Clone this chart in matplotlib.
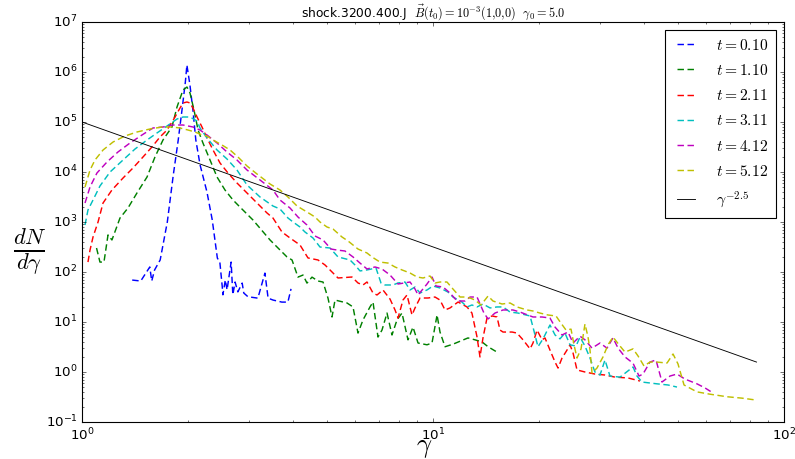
import matplotlib
matplotlib.use('Agg')
import matplotlib.pyplot as plt

plt.style.use('classic')
plt.rcParams['mathtext.fontset'] = 'cm'
plt.rcParams['lines.scale_dashes'] = False

# t = 0.10
g_010 = [1.39, 1.47, 1.56, 1.58, 1.61, 1.67, 1.75, 1.82, 1.88, 1.93, 1.97, 1.99, 2.03, 2.07, 2.11,
         2.17, 2.27, 2.35, 2.43, 2.47, 2.51, 2.52, 2.56, 2.59, 2.66, 2.69, 2.73, 2.78, 2.86, 2.89,
         2.97, 3.17, 3.32, 3.39, 3.50, 3.71, 3.86, 3.94]
n_010 = [69, 66, 126, 66, 110, 174, 1000, 8700, 43600, 190000, 631000, 1380000, 550000, 174000, 43600,
         13800, 3980, 1100, 190, 158, 50, 35, 69, 44, 158, 35, 63, 40, 60, 38,
         32, 30, 95, 30, 27.5, 25, 25, 46]

# t = 1.10
g_110 = [1.10, 1.125, 1.155, 1.186, 1.217, 1.283, 1.352, 1.434, 1.532, 1.614, 1.701, 1.804, 1.865,
         1.940, 1.991, 2.031, 2.085, 2.141, 2.211, 2.316, 2.425, 2.555, 2.693, 2.818, 3.070, 3.433,
         3.618, 3.837, 3.966, 4.124, 4.262, 4.375, 4.521, 4.703, 4.861, 5.022, 5.156, 5.258, 5.689,
         5.917, 6.114, 6.318, 6.614, 6.746, 6.971, 7.156, 7.396, 7.641, 7.896, 8.159, 8.487, 8.770,
         9.065, 9.614, 9.935, 10.27, 10.47, 10.82, 11.40, 12.58, 13.17, 13.79, 14.35, 15.22]
n_110 = [302, 158, 158, 550, 437, 1200, 1905, 3800, 7940, 19950, 43650, 79430, 199500,
         436500, 501000, 380000, 173800, 69200, 38000, 17380, 7940, 4365, 2754, 1995, 1096, 437,
         302, 200, 174, 79, 87, 60, 79, 66, 63, 30, 12.6, 27.5, 24,
         20, 6.0, 11, 20, 25, 5.0, 6.9, 15.1, 5.5, 11, 15.1, 4.4, 7.9,
         3.8, 3.5, 3.8, 13.8, 6.3, 3.2, 3.6, 4.8, 4.4, 4.0, 3.2, 2.5]

# t = 2.11
g_211 = [1.040, 1.054, 1.075, 1.111, 1.148, 1.217, 1.309, 1.397, 1.492, 1.582, 1.668, 1.747, 1.841,
         1.902, 1.940, 1.991, 2.031, 2.071, 2.127, 2.197, 2.271, 2.362, 2.473, 2.606, 2.764, 2.952,
         3.152, 3.366, 3.50, 3.713, 3.914, 4.179, 4.404, 4.703, 4.925, 5.156, 5.362, 5.877, 6.114,
         6.318, 6.486, 6.746, 6.925, 7.202, 7.542, 7.795, 7.950, 8.213, 8.432, 8.713, 8.887, 9.183,
         9.678, 10.13, 10.47, 10.82, 11.18, 11.79, 12.50, 12.91, 13.35, 13.61, 13.88, 14.25, 14.73,
         15.22, 15.52, 15.83, 16.80, 17.35, 18.05, 18.90, 19.27, 19.79, 20.45, 20.85, 21.54, 22.27,
         22.71, 23.31, 24.09, 24.57, 25.06, 25.72, 27.10, 28.93, 30.90, 33.00, 35.94, 38.88]
n_211 = [158, 275, 501, 1000, 2399, 4365, 7586, 12020, 19950, 31620, 50120, 69180, 125900,
         190500, 239900, 251200, 239900, 190500, 125900, 79430, 47860, 27540, 15140, 9550, 6026, 3802,
         2399, 1514, 1202, 631, 479, 347, 191, 174, 138, 100, 75.9, 79.4, 60.3,
         55.0, 63.1, 38.0, 34.7, 43.7, 28.8, 17.4, 12.0, 27.5, 34.7, 13.8, 19.1, 30.2,
         30.2, 31.6, 27.5, 17.4, 19.1, 25.1, 20.0, 15.1, 5.0, 2.0, 4.8, 12.0, 13.2,
         12.6, 6.9, 6.3, 6.3, 6.0, 4.4, 2.9, 3.8, 6.9, 4.4, 4.8, 2.75, 1.58,
         1.20, 1.9, 2.75, 3.5, 2.4, 1.10, 1.0, 0.91, 0.87, 0.79, 0.76, 0.66]

# t = 3.11
g_311 = [1.020, 1.040, 1.075, 1.125, 1.202, 1.309, 1.416, 1.532, 1.635, 1.747, 1.865, 1.940, 2.031,
         2.127, 2.169, 2.271, 2.425, 2.589, 2.764, 2.952, 3.215, 3.50, 3.665, 3.862, 3.993, 4.179,
         4.318, 4.551, 4.765, 5.088, 5.362, 5.801, 5.995, 6.194, 6.486, 6.880, 7.109, 7.298, 7.691,
         7.950, 8.321, 8.600, 8.887, 9.183, 9.614, 10.0, 10.47, 11.03, 11.40, 12.09, 12.50, 12.91,
         13.35, 13.88, 14.54, 15.22, 15.83, 16.58, 17.47, 18.90, 19.27, 19.91, 20.58, 21.54, 22.27,
         23.00, 23.77, 24.57, 25.55, 26.23, 27.10, 28.01, 28.93, 29.91, 30.90, 31.93, 34.11, 37.14,
         38.13, 39.39, 43.46, 46.72, 49.56]
n_311 = [871, 1738, 2754, 5248, 10000, 17380, 28840, 43650, 60260, 83180, 114800, 125900, 125900,
         104700, 75860, 47860, 27540, 18200, 10960, 5495, 3162, 2089, 1820, 1202, 1000, 794,
         631, 479, 316, 302, 200, 174, 138, 105, 110, 120, 60.3, 55.0, 55.0,
         60.3, 63.1, 43.7, 50.1, 38.0, 43.7, 52.5, 47.9, 39.8, 31.6, 25.1, 20.0, 21.9,
         20.0, 22.9, 19.1, 20.0, 20.0, 15.8, 15.1, 13.2, 7.9, 3.2, 4.6, 8.7, 5.5,
         4.6, 6.0, 3.5, 3.3, 5.0, 3.3, 1.9, 1.0, 0.87, 1.74, 0.83, 0.79, 1.26,
         0.83, 0.63, 0.58, 0.55, 0.50]

# t = 4.12
g_412 = [1.020, 1.054, 1.103, 1.178, 1.266, 1.370, 1.482, 1.593, 1.701, 1.816, 1.940, 2.071, 2.169,
         2.271, 2.425, 2.589, 2.764, 2.952, 3.215, 3.50, 3.665, 3.914, 4.124, 4.375, 4.611, 4.861,
         5.121, 5.327, 5.613, 5.917, 6.194, 6.486, 6.835, 7.156, 7.542, 7.950, 8.600, 8.887, 9.065,
         9.614, 9.935, 10.20, 10.68, 11.18, 11.71, 12.34, 12.75, 13.35, 13.97, 14.35, 15.02, 15.83,
         16.90, 17.70, 19.27, 20.45, 21.54, 22.27, 23.31, 24.25, 25.06, 26.23, 27.10, 28.38, 29.91,
         31.31, 32.57, 33.67, 35.24, 37.14, 38.63, 39.65, 41.51, 43.18, 44.92, 47.33, 49.56, 52.24,
         56.51, 59.56, 62.79]
n_412 = [2399, 5012, 9550, 15850, 25120, 38020, 54950, 75860, 79430, 87100, 87100, 79430, 69180,
         54950, 38020, 25120, 17380, 10960, 6918, 4365, 2754, 1905, 1259, 871, 525, 437,
         288, 275, 263, 200, 151, 115, 126, 115, 87.1, 57.5, 63.1, 45.7, 34.7,
         57.5, 79.4, 52.5, 50.1, 38.0, 26.3, 26.3, 31.6, 31.6, 15.1, 11.5, 15.1, 17.4,
         17.4, 15.8, 12.6, 12.6, 12.0, 7.9, 5.5, 6.3, 3.8, 5.2, 4.4, 3.0, 3.8,
         3.0, 4.8, 3.0, 2.0, 1.5, 0.83, 0.91, 1.58, 1.74, 0.63, 0.83, 0.91, 0.72,
         0.58, 0.48, 0.38]

# t = 5.12
g_512 = [1.020, 1.054, 1.089, 1.148, 1.226, 1.326, 1.434, 1.562, 1.690, 1.804, 1.902, 2.004, 2.099,
         2.197, 2.271, 2.362, 2.505, 2.641, 2.782, 2.952, 3.152, 3.433, 3.665, 3.862, 4.098, 4.375,
         4.611, 4.765, 4.989, 5.190, 5.505, 5.727, 6.114, 6.486, 6.702, 7.063, 7.443, 7.795, 8.159,
         8.600, 9.005, 9.366, 9.806, 10.13, 10.47, 10.96, 11.40, 11.94, 12.34, 12.75, 13.17, 13.70,
         14.35, 14.82, 15.73, 16.58, 17.35, 18.53, 19.27, 20.17, 21.27, 22.41, 23.15, 23.93, 24.73,
         25.22, 25.72, 26.41, 27.10, 27.65, 28.01, 28.38, 29.32, 30.50, 31.52, 32.57, 33.88, 35.24,
         37.14, 38.37, 39.91, 41.51, 43.46, 46.42, 48.29, 49.89, 51.90, 56.51, 61.52, 68.80, 75.93,
         83.22]
n_512 = [5012, 10960, 17380, 27540, 39810, 52480, 63100, 72440, 79430, 79430, 75860, 69180, 63100,
         54950, 52480, 43650, 34670, 27540, 19950, 13180, 9120, 5754, 4365, 3162, 2089, 1585,
         1259, 1000, 794, 724, 501, 417, 288, 240, 200, 158, 151, 126, 110,
         95.5, 79.4, 75.9, 83.2, 60.3, 63.1, 63.1, 45.7, 31.6, 31.6, 30.2, 27.5, 21.9,
         33.1, 26.3, 22.9, 24.0, 20.0, 17.4, 16.6, 15.1, 13.8, 13.2, 9.5, 6.9, 7.2,
         3.5, 1.9, 2.9, 9.1, 5.0, 2.75, 0.95, 1.2, 2.0, 3.5, 5.0, 3.5, 2.5,
         2.9, 2.1, 1.32, 1.58, 1.58, 1.51, 2.29, 1.45, 0.55, 0.40, 0.36, 0.32, 0.30,
         0.275]

# power law guide, gamma^-2.5
g_fit = [1.0, 83.5]
n_fit = [1.0e5, 1.58]

series = [(g_010, n_010, 'b', r'$t=0.10$'),
          (g_110, n_110, 'g', r'$t=1.10$'),
          (g_211, n_211, 'r', r'$t=2.11$'),
          (g_311, n_311, 'c', r'$t=3.11$'),
          (g_412, n_412, 'm', r'$t=4.12$'),
          (g_512, n_512, 'y', r'$t=5.12$')]

fig = plt.figure(figsize=(795 / 80.0, 459 / 80.0), dpi=80, facecolor='w')
ax = fig.add_axes([82 / 795.0, 37 / 459.0, 702 / 795.0, 400 / 459.0])

for g, n, c, lab in series:
    ax.plot(g, n, '--', color=c, lw=1.3, dashes=(5.8, 3.2), label=lab)
ax.plot(g_fit, n_fit, '-', color='k', lw=0.8, label=r'$\gamma^{-2.5}$')

ax.set_xscale('log')
ax.set_yscale('log')
ax.set_xlim(1, 100)
ax.set_ylim(0.1, 1e7)

ax.set_title(r'shock.3200.400.J  $\vec{B}(t_0)=10^{-3}(1{,}0{,}0)$  $\gamma_0=5.0$', fontsize=11)
ax.set_xlabel(r'$\gamma$', fontsize=24, va='center')
ax.xaxis.set_label_coords(0.487, -0.062)
ax.set_ylabel(r'$\frac{dN}{d\gamma}$', fontsize=29, rotation=0, va='center', ha='center')
ax.yaxis.set_label_coords(-0.074, 0.425)

leg = ax.legend(loc='upper right', fontsize=14, handlelength=1.7, handletextpad=1.1,
                labelspacing=0.66, borderpad=0.5)
leg.get_frame().set_linewidth(1.0)

fig.savefig('out.png', dpi=80, facecolor='w')
